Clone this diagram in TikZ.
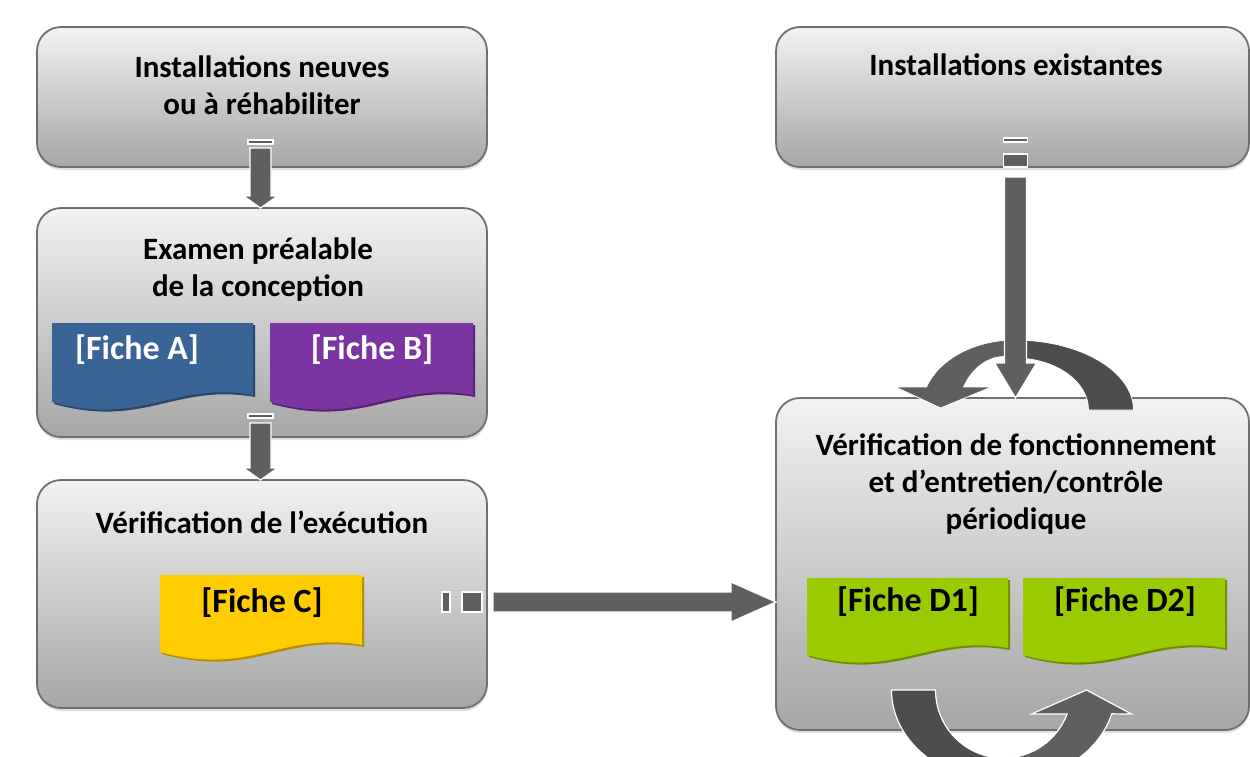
\documentclass[tikz,border=0pt]{standalone}
\usepackage{fontspec}
\setmainfont{Carlito}
\usetikzlibrary{calc,shadows}

\definecolor{boxtop}{HTML}{F2F2F2}
\definecolor{boxbot}{HTML}{A6A6A6}
\definecolor{boxline}{HTML}{6F6F6F}
\definecolor{arrowgray}{HTML}{5F5F5F}
\definecolor{arrowdark}{HTML}{4D4D4D}
\definecolor{ficheA}{HTML}{3A6496}
\definecolor{ficheB}{HTML}{7A35A2}
\definecolor{ficheC}{HTML}{FFCC00}
\definecolor{ficheD}{HTML}{9ACB00}

% document shape with a wavy lower edge, drawn over an invisible node
\newcommand\fiche[2]{%
  \fill[#2!70!black, transform canvas={shift={(2pt,-2pt)}}]
    (#1.north west) -- (#1.north east) -- (#1.south east)
    .. controls ($(#1.south east)!0.4!(#1.south west)+(0,-14)$)
    and ($(#1.south east)!0.55!(#1.south west)+(0,32)$)
    .. ($(#1.south west)+(0,7)$) -- cycle;
  \fill[#2]
    (#1.north west) -- (#1.north east) -- (#1.south east)
    .. controls ($(#1.south east)!0.4!(#1.south west)+(0,-14)$)
    and ($(#1.south east)!0.55!(#1.south west)+(0,32)$)
    .. ($(#1.south west)+(0,7)$) -- cycle;}

% block arrows: start, tip, half shaft, half head, head length
\newcommand\fatdown[5]{%
  \filldraw[fatarrow] let \p1=(#1), \p2=(#2) in
    (\x2-#3pt,\y1) -- (\x2+#3pt,\y1) -- (\x2+#3pt,\y2+#5pt) -- (\x2+#4pt,\y2+#5pt)
    -- (\x2,\y2) -- (\x2-#4pt,\y2+#5pt) -- (\x2-#3pt,\y2+#5pt) -- cycle;}
\newcommand\fatright[5]{%
  \filldraw[fatarrow] let \p1=(#1), \p2=(#2) in
    (\x1,\y2+#3pt) -- (\x2-#5pt,\y2+#3pt) -- (\x2-#5pt,\y2+#4pt) -- (\x2,\y2)
    -- (\x2-#5pt,\y2-#4pt) -- (\x2-#5pt,\y2-#3pt) -- (\x1,\y2-#3pt) -- cycle;}

\begin{document}
\begin{tikzpicture}[x=1pt,y=-1pt,
  box/.style={rectangle, rounded corners=24pt, draw=boxline, line width=1.8pt,
    top color=boxtop, bottom color=boxbot, inner sep=0pt, outer sep=0pt,
    drop shadow={shadow xshift=0.5pt, shadow yshift=-3pt, opacity=0.25}},
  lbl/.style={font=\bfseries\fontsize{31}{37}\selectfont, align=center, inner sep=0pt, text=black},
  fichebox/.style={rectangle, inner sep=0pt, outer sep=0pt, minimum height=70pt},
  fichetxt/.style={font=\bfseries\fontsize{34}{37}\selectfont, inner sep=0pt},
  fatarrow/.style={fill=arrowgray, draw=white, line width=1.3pt},
  stripe/.style={fill=arrowgray, draw=white, line width=1.3pt},
  loopband/.style={draw=white, line width=1.2pt}]

\useasboundingbox (0,0) rectangle (1250,756);
\clip (0,0) rectangle (1250,756);

% main boxes
\node[box, minimum width=450pt, minimum height=140pt] (b1) at (262,97) {};
\node[box, minimum width=450pt, minimum height=229pt] (b2) at (262,322.5) {};
\node[box, minimum width=450pt, minimum height=228pt] (b3) at (262,594) {};
\node[box, minimum width=473pt, minimum height=140pt] (b4) at (1012.5,97) {};
\node[box, minimum width=473pt, minimum height=332pt] (b5) at (1012.5,564) {};

% box titles
\node[lbl] (t1) at (262,85) {Installations neuves\\ou à réhabiliter};
\node[lbl] (t2) at (258,270) {Examen préalable\\de la conception};
\node[lbl] (t3) at (262,522) {Vérification de l’exécution};
\node[lbl] (t4) at (1016,65) {Installations existantes};
\node[lbl] (t5) at (1016,484) {Vérification de fonctionnement\\et d’entretien/contrôle\\périodique};

% fiches
\node[fichebox, minimum width=201pt, minimum height=72pt] (fA) at (152.5,359) {};
\node[fichebox, minimum width=203pt, minimum height=72pt] (fB) at (371.5,359) {};
\node[fichebox, minimum width=202pt] (fC) at (261,610) {};
\node[fichebox, minimum width=201pt] (fD1) at (907.5,613) {};
\node[fichebox, minimum width=202pt] (fD2) at (1124,613) {};
\fiche{fA}{ficheA}
\fiche{fB}{ficheB}
\fiche{fC}{ficheC}
\fiche{fD1}{ficheD}
\fiche{fD2}{ficheD}
\node[fichetxt, text=white] (lA) at (137,350) {[Fiche A]};
\node[fichetxt, text=white] (lB) at (372,350) {[Fiche B]};
\node[fichetxt, text=black] (lC) at (262,603) {[Fiche C]};
\node[fichetxt, text=black] (lD1) at (908,602) {[Fiche D1]};
\node[fichetxt, text=black] (lD2) at (1125,602) {[Fiche D2]};

% new installations -> preliminary review
\coordinate (a1) at ([xshift=-1.5pt]b1.south);
\filldraw[stripe] ([xshift=-12.5pt,yshift=27pt]a1) rectangle ([xshift=12.5pt,yshift=23pt]a1);
\fatdown{[yshift=19pt]a1}{a1 |- b2.north}{10.5}{17}{12}

% preliminary review -> execution check
\coordinate (a2) at ([xshift=-1.5pt]b2.south);
\filldraw[stripe] ([xshift=-12.5pt,yshift=23pt]a2) rectangle ([xshift=12.5pt,yshift=19pt]a2);
\fatdown{[yshift=14pt]a2}{a2 |- b3.north}{10.5}{17}{12}

% loop arrows on the periodic check box
\begin{scope}[shift={(b5.north)}]
  \filldraw[draw=white, line width=0.8pt, fill=arrowdark]
    (121,12) arc[start angle=0, end angle=-90, x radius=119, y radius=70]
    -- (2,-40) arc[start angle=-90, end angle=0, x radius=74, y radius=52] -- cycle;
  \filldraw[draw=white, line width=0.8pt, fill=arrowgray]
    (2,-58) .. controls (-39,-58) and (-74,-38) .. (-86,-11)
    -- (-117,-11) -- (-72,10) -- (-21,-11) -- (-49,-11)
    .. controls (-39,-33) and (-19,-46) .. (2,-40) -- cycle;
\end{scope}
\begin{scope}[shift={(b5.south)}]
  \filldraw[loopband, fill=arrowdark]
    (-121,-40) arc[start angle=180, end angle=90, x radius=112, y radius=92]
    -- (-9,28) arc[start angle=90, end angle=180, x radius=68, y radius=68] -- cycle;
  \filldraw[loopband, fill=arrowgray]
    (-9,52) arc[start angle=90, end angle=15, x radius=112, y radius=92]
    -- (119,-16) -- (74,-40) -- (19,-16) -- (54.6,-16)
    arc[start angle=20.7, end angle=90, x radius=68, y radius=68] -- cycle;
\end{scope}

% existing installations -> periodic check
\coordinate (a4) at ([xshift=3pt]b4.south);
\filldraw[stripe] ([xshift=-12pt,yshift=29pt]a4) rectangle ([xshift=12pt,yshift=25pt]a4);
\filldraw[stripe] ([xshift=-12pt,yshift=13pt]a4) rectangle ([xshift=12pt,yshift=0pt]a4);
\fatdown{[yshift=-10pt]a4}{a4 |- b5.north}{11}{21}{35}

% execution check -> periodic check
\coordinate (a3) at ([yshift=-8pt]b3.east);
\filldraw[stripe] ([xshift=-45pt,yshift=10pt]a3) rectangle ([xshift=-37pt,yshift=-10pt]a3);
\filldraw[stripe] ([xshift=-25pt,yshift=10pt]a3) rectangle ([xshift=-5pt,yshift=-10pt]a3);
\fatright{[xshift=6pt]a3}{a3 -| b5.west}{10}{20}{45}

\end{tikzpicture}
\end{document}
